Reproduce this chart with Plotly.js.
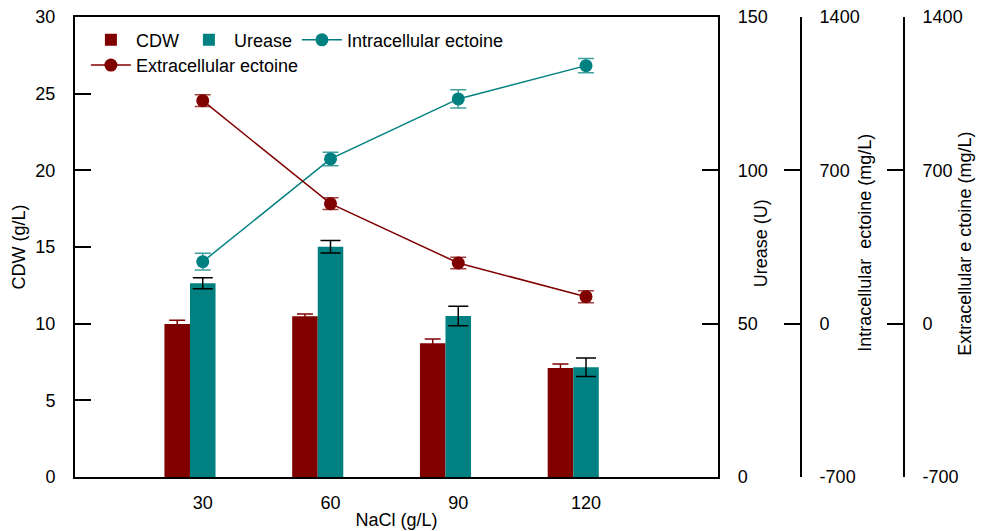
<!DOCTYPE html>
<html>
<head>
<meta charset="utf-8">
<script src="https://cdn.plot.ly/plotly-3.0.1.min.js"></script>
<style>html,body{margin:0;padding:0;background:#fff;}#chart{width:984px;height:531px;}</style>
</head>
<body>
<div id="chart"></div>
<script>
const nacl = [30, 60, 90, 120];
const cdw = [9.98, 10.48, 8.72, 7.11];
const cdwErr = [0.25, 0.15, 0.28, 0.26];
const urease = [63.2, 75.1, 52.5, 35.8];
const ureaseErr = [1.8, 2.05, 3.2, 3.0];
const intraEctoine = [283, 752, 1026, 1178];
const intraErr = [38, 31, 42, 33];
const extraEctoine = [1018, 548, 277, 123];
const extraErr = [27, 27, 26, 27];
const ectoineTicks = [-700, 0, 700, 1400];
const ectoineTickText = ['-700', '0', '700', '1400'];

const RED = '#800000';
const TEAL = '#008080';
const FONT = 'Liberation Sans, Arial, sans-serif';

const traces = [
  {
    type: 'bar', name: 'CDW', x: nacl, y: cdw, yaxis: 'y', xaxis: 'x',
    width: 6, offset: -9,
    marker: {color: RED, line: {width: 0}},
    error_y: {type: 'data', array: cdwErr, visible: true, color: RED, thickness: 1.5, width: 8},
    legend: 'legend'
  },
  {
    type: 'bar', name: 'Urease', x: nacl, y: urease, yaxis: 'y2', xaxis: 'x',
    width: 6, offset: -3,
    marker: {color: TEAL, line: {width: 0}},
    error_y: {type: 'data', array: ureaseErr, visible: true, color: '#000', thickness: 1.5, width: 10},
    legend: 'legend'
  },
  {
    type: 'scatter', mode: 'lines+markers', name: 'Intracellular ectoine',
    x: nacl, y: intraEctoine, yaxis: 'y3', xaxis: 'x',
    line: {color: TEAL, width: 1.5},
    marker: {color: TEAL, size: 13, symbol: 'circle'},
    error_y: {type: 'data', array: intraErr, visible: true, color: 'rgba(0,128,128,0.75)', thickness: 1.5, width: 8},
    legend: 'legend'
  },
  {
    type: 'scatter', mode: 'lines+markers', name: 'Extracellular ectoine',
    x: nacl, y: extraEctoine, yaxis: 'y4', xaxis: 'x',
    line: {color: RED, width: 1.5},
    marker: {color: RED, size: 13, symbol: 'circle'},
    error_y: {type: 'data', array: extraErr, visible: true, color: 'rgba(128,0,0,0.75)', thickness: 1.5, width: 8},
    legend: 'legend2'
  }
];

const axisCommon = {
  showgrid: false, zeroline: false, showline: true, linecolor: '#000', linewidth: 2,
  ticks: 'inside', ticklen: 16, tickwidth: 2, tickcolor: '#000',
  tickfont: {family: FONT, size: 18, color: '#000'}
};

const layout = {
  width: 984, height: 531,
  margin: {l: 75, r: 0, t: 17, b: 54},
  paper_bgcolor: '#fff', plot_bgcolor: '#fff',
  font: {family: FONT, size: 18, color: '#000'},
  barmode: 'overlay',
  showlegend: true,
  xaxis: Object.assign({}, axisCommon, {
    domain: [0, 0.7074], range: [0, 151],
    tickvals: nacl, ticktext: nacl.map(String), ticks: '', mirror: true,
    ticklabelstandoff: 8,
    title: {text: 'NaCl (g/L)', font: {family: FONT, size: 18}, standoff: 2}
  }),
  yaxis: Object.assign({}, axisCommon, {
    range: [0, 30], dtick: 5, tick0: 0, ticklabelstandoff: 14,
    title: {text: 'CDW (g/L)', font: {family: FONT, size: 18}, standoff: 5}
  }),
  yaxis2: Object.assign({}, axisCommon, {
    overlaying: 'y', side: 'right', anchor: 'x',
    range: [0, 150], dtick: 50, tick0: 0, ticklabelstandoff: 14
  }),
  yaxis3: Object.assign({}, axisCommon, {
    overlaying: 'y', side: 'right', anchor: 'free', position: 0.7987,
    range: [-700, 1400], tickvals: ectoineTicks, ticktext: ectoineTickText, ticklabelstandoff: 14
  }),
  yaxis4: Object.assign({}, axisCommon, {
    overlaying: 'y', side: 'right', anchor: 'free', position: 0.912,
    range: [-700, 1400], tickvals: ectoineTicks, ticktext: ectoineTickText, ticklabelstandoff: 14
  }),
  legend: {
    orientation: 'h', x: 0.012, y: 0.99, xanchor: 'left', yanchor: 'top',
    bgcolor: 'rgba(0,0,0,0)', font: {family: FONT, size: 18, color: '#000'},
    itemwidth: 40, tracegroupgap: 0
  },
  legend2: {
    orientation: 'h', x: 0.012, y: 0.935, xanchor: 'left', yanchor: 'top',
    bgcolor: 'rgba(0,0,0,0)', font: {family: FONT, size: 18, color: '#000'},
    itemwidth: 40
  },
  annotations: [
    {text: 'Urease (U)', xref: 'paper', yref: 'paper', x: 0.755, y: 0.509, textangle: -90,
     showarrow: false, xanchor: 'center', yanchor: 'middle', font: {family: FONT, size: 18, color: '#000'}},
    {text: 'Intracellular  ectoine (mg/L)', xref: 'paper', yref: 'paper', x: 0.869, y: 0.509, textangle: -90,
     showarrow: false, xanchor: 'center', yanchor: 'middle', font: {family: FONT, size: 18, color: '#000'}},
    {text: 'Extracellular e ctoine (mg/L)', xref: 'paper', yref: 'paper', x: 0.979, y: 0.507, textangle: -90,
     showarrow: false, xanchor: 'center', yanchor: 'middle', font: {family: FONT, size: 18, color: '#000'}}
  ]
};

Plotly.newPlot('chart', traces, layout, {displayModeBar: false, staticPlot: true});
</script>
</body>
</html>
